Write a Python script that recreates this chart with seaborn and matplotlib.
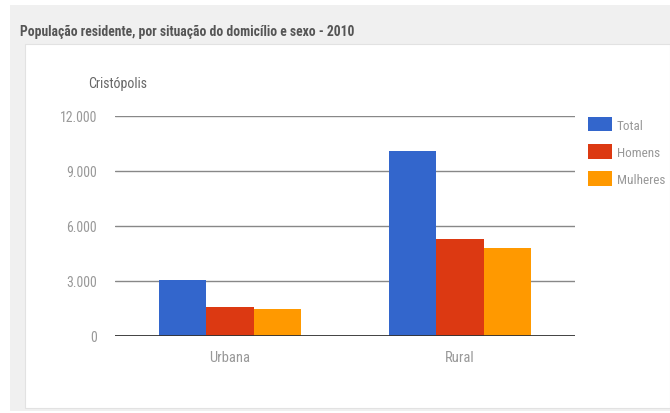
import matplotlib
matplotlib.use("Agg")
import matplotlib.pyplot as plt
import seaborn as sns
import pandas as pd
from matplotlib.patches import Rectangle
from matplotlib import font_manager

categories = ["Urbana", "Rural"]
series = ["Total", "Homens", "Mulheres"]
total = [3050, 10090]
homens = [1560, 5290]
mulheres = [1490, 4800]
yticks = [0, 3000, 6000, 9000, 12000]
ytick_labels = ["0", "3.000", "6.000", "9.000", "12.000"]
colors = ["#3366cc", "#dc3912", "#ff9900"]

names = {f.name for f in font_manager.fontManager.ttflist}
fam = [f for f in ["Liberation Sans Narrow", "Roboto Condensed", "Open Sans Condensed", "Roboto", "DejaVu Sans"] if f in names]

rows = []
for i, c in enumerate(categories):
    rows.append({"situacao": c, "sexo": "Total", "valor": total[i]})
    rows.append({"situacao": c, "sexo": "Homens", "valor": homens[i]})
    rows.append({"situacao": c, "sexo": "Mulheres", "valor": mulheres[i]})
df = pd.DataFrame(rows)

sns.set_style("white")
plt.rcParams["font.family"] = fam

fig = plt.figure(figsize=(6.7, 4.14), dpi=100)
fig.patch.set_facecolor("white")
W, H = 670, 414
def R(x0, y0, x1, y1, **kw):
    fig.add_artist(Rectangle((x0 / W, 1 - y1 / H), (x1 - x0) / W, (y1 - y0) / H,
                             transform=fig.transFigure, **kw))
R(10, 6, 670, 412, facecolor="#f0f0f0", edgecolor="none", zorder=0)
R(25, 45, 670, 409, facecolor="white", edgecolor="#e2e2e2", lw=0.8, zorder=0)

fig.text(20 / W, 1 - 32 / H, "População residente, por situação do domicílio e sexo - 2010",
         fontsize=9.8, fontweight="bold", color="#555555", va="center", ha="left")
fig.text(88 / W, 1 - 84 / H, "Cristópolis", fontsize=10, color="#666666",
         va="center", ha="left")

ax = fig.add_axes([115 / W, 1 - 337 / H, 460 / W, 220 / H])
ax.set_facecolor("none")
sns.barplot(data=df, x="situacao", y="valor", hue="sexo", hue_order=series,
            palette=colors, width=0.62, saturation=1, ax=ax, legend=False,
            edgecolor="none", linewidth=0, zorder=3)
ax.set_ylim(0, 12000)
ax.set_xlim(-0.5, 1.5)
ax.set_yticks(yticks)
ax.set_yticklabels(ytick_labels)
for y in yticks:
    ax.axhline(y, color="#333333" if y == 0 else "#888888", lw=1.3 if y == 0 else 1.0, zorder=2 if y else 4)
for s in ax.spines.values():
    s.set_visible(False)
ax.tick_params(axis="both", length=0, colors="#999999")
ax.tick_params(axis="y", pad=13, labelsize=10)
ax.tick_params(axis="x", pad=10, labelsize=10.5)
ax.set_xlabel("")
ax.set_ylabel("")

handles = [Rectangle((0, 0), 1, 1, facecolor=c, edgecolor="none") for c in colors]
leg = fig.legend(handles, series, loc="upper left", bbox_to_anchor=(588 / W, 1 - 118 / H),
                 frameon=False, fontsize=9.5, handlelength=1.8, handleheight=1.3,
                 handletextpad=0.4, labelspacing=0.95, borderpad=0, borderaxespad=0)
for t in leg.get_texts():
    t.set_color("#999999")

fig.savefig("out.png", dpi=100)
